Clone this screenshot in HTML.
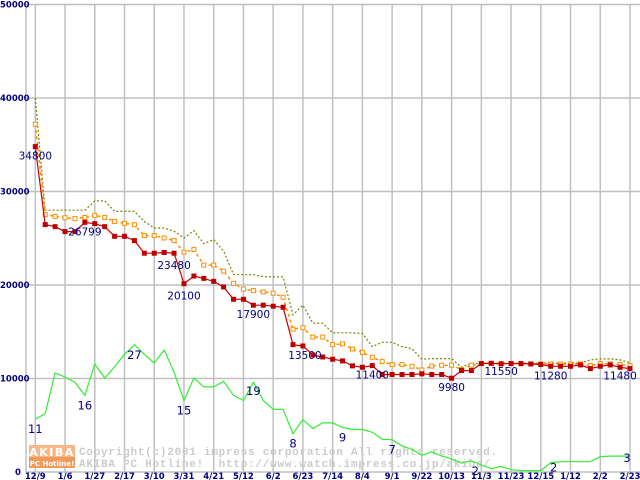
<!DOCTYPE html>
<html><head><meta charset="utf-8"><style>
html,body{margin:0;padding:0;background:#fff;}
svg{display:block;font-family:"DejaVu Sans","Liberation Sans",sans-serif;}
</style></head><body>
<svg id="chart" width="640" height="480" viewBox="0 0 640 480" xmlns="http://www.w3.org/2000/svg">
<g id="grid"></g>
<g id="watermark">
  <rect x="29" y="445" width="46" height="12" fill="#f7b98a"/>
  <rect x="29" y="457" width="46" height="11" fill="#f39a5a"/>
  <text x="52" y="456" font-size="11" font-weight="bold" fill="#fff" text-anchor="middle" letter-spacing="1.5">AKIBA</text>
  <text x="52" y="466" font-size="7" font-weight="bold" fill="#fff" text-anchor="middle">PC Hotline!</text>
  <text x="79" y="455" font-size="11" font-weight="bold" fill="#cccccc" font-family="Liberation Mono, monospace" letter-spacing="0.75">Copyright(c)2001 impress corporation All rights reserved.</text>
  <text x="79" y="467" font-size="11" font-weight="bold" fill="#cccccc" font-family="Liberation Mono, monospace" letter-spacing="0.75" xml:space="preserve">AKIBA PC Hotline!  http://www.watch.impress.co.jp/akiba/</text>
</g>
<g id="series"></g>
<g id="labels"></g>
</svg>
<script>
const categories=["12/9","","","1/6","","","1/27","","","2/17","","","3/10","","","3/31","","","4/21","","","5/12","","","6/2","","","6/23","","","7/14","","","8/4","","","9/1","","","9/22","","","10/13","","","11/3","","","11/23","","","12/15","","","1/12","","","2/2","","","2/23"];
const yTicks=[0,10000,20000,30000,40000,50000];
const maxPrice=[40000,28000,28000,28000,28000,28000,29000,29000,27870,27870,27870,26800,26100,26100,25740,25030,25820,24430,24860,23620,21130,21100,21100,20890,20870,20870,16810,17840,15920,15920,14890,14890,14890,14820,13400,13870,13870,13400,13190,12060,12130,12130,12130,11200,11630,11630,11650,11650,11650,11650,11650,11650,11650,11650,11650,11650,11990,12100,12100,11990,11700];
const avgPrice=[37200,27520,27340,27200,27100,27230,27450,27230,26800,26600,26450,25280,25280,25030,24750,23510,23800,22130,22130,21490,20180,19570,19400,19260,19120,18690,15280,15430,14430,14430,13620,13700,13150,12800,12270,11810,11490,11490,11310,10920,11330,11420,11420,10960,11420,11600,11600,11600,11580,11580,11560,11560,11540,11540,11540,11560,11380,11600,11560,11500,11380];
const minPrice=[34800,26460,26240,25710,25710,26700,26560,26240,25210,25210,24750,23400,23400,23480,23400,20140,20960,20710,20390,19790,18470,18470,17840,17840,17730,17620,13620,13480,12520,12300,12060,11880,11350,11200,11380,10430,10430,10430,10430,10500,10430,10430,10030,10850,10850,11600,11630,11560,11600,11600,11550,11500,11310,11310,11310,11450,11060,11310,11450,11200,11060];
const shopCount=[11.3,12.5,21.2,20.3,19.2,16.4,23.1,20.1,22.5,25.2,27.2,25.2,23.3,26.1,21.3,15.3,20.1,18.2,18.2,19.4,16.4,15.3,19.2,15.3,13.4,13.4,8.2,11.2,9.3,10.5,10.5,9.5,9.1,9.1,8.5,7,6.9,5.6,4.8,3.6,4.3,3.4,2.8,1.9,2.4,1.5,0.7,1.2,0.5,0.3,0.3,0.3,2.0,2.2,2.2,2.2,2.2,3.3,3.4,3.4,3.4];
const priceLabels=[[0,"34800",0,13],[5,"26799",0,13],[14,"23480",0,16],[15,"20100",0,16],[22,"17900",0,13],[27,"13500",2,13],[34,"11400",0,13],[42,"9980",0,13],[47,"11550",0,11],[52,"11280",0,13],[59,"11480",0,12]];
const countLabels=[[0,"11",0,14],[5,"16",0,14],[10,"27",0,14],[15,"15",0,14],[22,"19",0,13],[26,"8",0,14],[31,"9",0,14],[36,"7",0,14],[45,"2",-6,10],[53,"2",-7,10],[60,"3",-3,6]];

const NS="http://www.w3.org/2000/svg";
const X0=35.3, DX=(630-35.3)/60, Y0=472, YTOP=4.5;
function xs(i){return X0+i*DX;}
function ys(v){return Y0-(v/50000)*(Y0-YTOP);}
function yc(c){return ys(c*500);}
function mk(tag,attrs,parent){const e=document.createElementNS(NS,tag);for(const k in attrs)e.setAttribute(k,attrs[k]);parent.appendChild(e);return e;}
const grid=document.getElementById('grid'),ser=document.getElementById('series'),lab=document.getElementById('labels');

mk('line',{x1:26,y1:YTOP,x2:26,y2:Y0,stroke:'#c0c0c0','stroke-width':1.5},grid);
yTicks.forEach(t=>{
  const l=mk('line',{x1:26,y1:ys(t),x2:640,y2:ys(t),stroke:'#c0c0c0','stroke-width':1.5},grid);
  
  
  const tx=mk('text',{x:t===0?15:0,y:ys(t)+3,'font-size':8.5,'font-weight':'bold',fill:'#000080'},grid);
  tx.textContent=String(t);
  
  
});
categories.forEach((c,i)=>{
  if(!c)return;
  const l=mk('line',{x1:xs(i),y1:YTOP,x2:xs(i),y2:Y0,stroke:'#c0c0c0','stroke-width':1.5},grid);
  
  
  const tx=mk('text',{x:xs(i),y:479,'font-size':8.5,'font-weight':'bold',fill:'#000080','text-anchor':'middle'},grid);
  tx.textContent=c;
  
  
});

function pts(arr,f){return arr.map((v,i)=>xs(i).toFixed(1)+','+f(v).toFixed(1)).join(' ');}
let p;
p=mk('polyline',{points:pts(shopCount,yc),fill:'none',stroke:'#33ee33','stroke-width':1.2},ser);


p=mk('polyline',{points:pts(maxPrice,ys),fill:'none',stroke:'#808000','stroke-width':1.2,'stroke-dasharray':'2,2'},ser);


p=mk('polyline',{points:pts(avgPrice,ys),fill:'none',stroke:'#ff8c00','stroke-width':1.5,'stroke-dasharray':'3,3'},ser);


avgPrice.forEach((v,i)=>{
  const r=mk('rect',{x:xs(i)-2,y:ys(v)-2,width:4,height:4,fill:'#fff',stroke:'#ff8c00','stroke-width':1},ser);
  
  
});
p=mk('polyline',{points:pts(minPrice,ys),fill:'none',stroke:'#cc0000','stroke-width':1.2},ser);


minPrice.forEach((v,i)=>{
  const r=mk('rect',{x:xs(i)-2.5,y:ys(v)-2.5,width:5,height:5,fill:'#bb0000'},ser);
  
  
});
priceLabels.forEach(([i,t,dx,dy])=>{
  const tx=mk('text',{x:xs(i)+dx,y:ys(minPrice[i])+dy,'font-size':10.5,fill:'#000080','text-anchor':'middle'},lab);
  tx.textContent=t;
  
  
});
countLabels.forEach(([i,t,dx,dy])=>{
  const tx=mk('text',{x:xs(i)+dx,y:yc(shopCount[i])+dy,'font-size':11.5,fill:'#000080','text-anchor':'middle'},lab);
  tx.textContent=t;
  
  
});
</script>
</body></html>
